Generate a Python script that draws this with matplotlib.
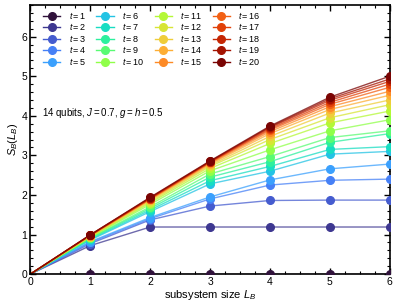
import matplotlib
matplotlib.use("Agg")
import matplotlib.pyplot as plt
from matplotlib.ticker import MultipleLocator
import numpy as np

plt.rcParams['font.family'] = ['Liberation Sans', 'DejaVu Sans']
plt.rcParams['mathtext.fontset'] = 'custom'
plt.rcParams['mathtext.rm'] = 'Liberation Sans'
plt.rcParams['mathtext.it'] = 'Liberation Sans:italic'

# Data: entanglement entropy S_B(L_B) for times t = 1..20
L_B = [0, 1, 2, 3, 4, 5, 6]
times = list(range(1, 21))
S_t1 = [0, 0, 0, 0, 0, 0, 0]
S_t2 = [0, 0.72, 1.19, 1.19, 1.19, 1.19, 1.19]
S_t3 = [0, 0.77, 1.37, 1.72, 1.86, 1.87, 1.87]
S_t4 = [0, 0.80, 1.40, 1.90, 2.25, 2.37, 2.40]
S_t5 = [0, 0.82, 1.43, 1.95, 2.38, 2.66, 2.78]
S_t6 = [0, 0.86, 1.58, 2.28, 2.60, 3.03, 3.10]
S_t7 = [0, 0.88, 1.62, 2.36, 2.72, 3.15, 3.22]
S_t8 = [0, 0.90, 1.66, 2.45, 2.84, 3.33, 3.55]
S_t9 = [0, 0.91, 1.70, 2.53, 2.97, 3.45, 3.62]
S_t10 = [0, 0.93, 1.76, 2.61, 3.14, 3.62, 3.90]
S_t11 = [0, 0.94, 1.80, 2.67, 3.30, 3.82, 4.12]
S_t12 = [0, 0.95, 1.83, 2.72, 3.40, 3.95, 4.28]
S_t13 = [0, 0.96, 1.86, 2.75, 3.48, 4.07, 4.40]
S_t14 = [0, 0.97, 1.88, 2.78, 3.55, 4.16, 4.52]
S_t15 = [0, 0.97, 1.89, 2.80, 3.60, 4.23, 4.62]
S_t16 = [0, 0.98, 1.90, 2.82, 3.64, 4.29, 4.72]
S_t17 = [0, 0.98, 1.91, 2.83, 3.67, 4.34, 4.80]
S_t18 = [0, 0.99, 1.92, 2.84, 3.70, 4.39, 4.87]
S_t19 = [0, 0.99, 1.93, 2.85, 3.72, 4.43, 4.93]
S_t20 = [0, 0.99, 1.94, 2.86, 3.74, 4.47, 5.00]
series = [S_t1, S_t2, S_t3, S_t4, S_t5, S_t6, S_t7, S_t8, S_t9, S_t10,
          S_t11, S_t12, S_t13, S_t14, S_t15, S_t16, S_t17, S_t18, S_t19, S_t20]

fig = plt.figure(figsize=(3.99, 3.08), dpi=100)
ax = fig.add_axes([0.076, 0.11, 0.901, 0.874])

cmap = plt.get_cmap('turbo')
for i, (t, S) in enumerate(zip(times, series)):
    c = cmap(i / (len(times) - 1))
    ax.plot(L_B, S, '-', color=c, lw=1.0, alpha=0.75, zorder=2)
    ax.plot(L_B[1:], S[1:], 'o', color=c, ms=5.5, zorder=3)
    ax.plot([], [], '-o', color=c, lw=1.0, ms=5.5, label=r'$t = %d$' % t)

ax.set_xlim(0, 6)
ax.set_ylim(0, 6.8)
ax.xaxis.set_major_locator(MultipleLocator(1))
ax.xaxis.set_minor_locator(MultipleLocator(0.25))
ax.yaxis.set_major_locator(MultipleLocator(1))
ax.yaxis.set_minor_locator(MultipleLocator(0.2))
ax.tick_params(which='both', direction='in', top=True, right=True, labelsize=7.5, pad=2)
ax.tick_params(which='major', length=4, width=1)
ax.tick_params(which='minor', length=2, width=0.8)
for sp in ax.spines.values():
    sp.set_linewidth(1.2)

ax.set_xlabel(r'subsystem size $L_B$', fontsize=8, labelpad=1)
ax.set_ylabel(r'$S_B(L_B)$', fontsize=8, labelpad=1)
ax.text(0.2, 4.0, r'14 qubits, $J = 0.7$, $g = h = 0.5$', fontsize=7)

ax.legend(loc='upper left', bbox_to_anchor=(0.026, 0.995), borderaxespad=0,
          ncol=4, frameon=False, fontsize=6.5,
          handlelength=1.9, columnspacing=1.15, labelspacing=0.05,
          handletextpad=0.9)

fig.savefig('out.png', dpi=100)
